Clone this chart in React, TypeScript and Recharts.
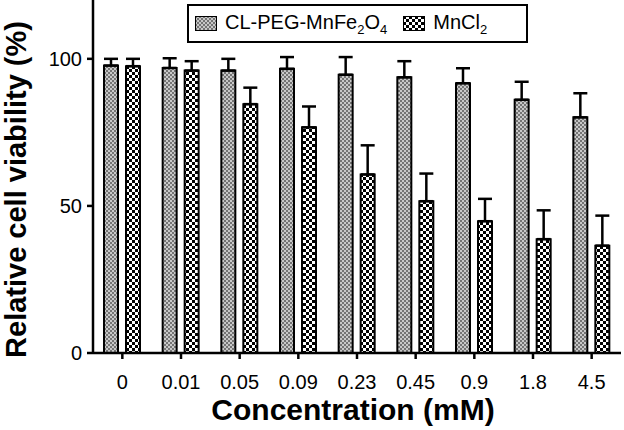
import { BarChart, Bar, XAxis, YAxis, ErrorBar, Legend, Label } from "recharts";

const concentrations = ["0", "0.01", "0.05", "0.09", "0.23", "0.45", "0.9", "1.8", "4.5"];
const clPegValues = [97.7, 96.9, 96.0, 96.6, 94.6, 93.7, 91.7, 86.1, 80.1];
const clPegErrors = [2.3, 3.3, 4.0, 4.0, 6.0, 5.5, 5.1, 6.1, 8.2];
const mnCl2Values = [97.5, 96.0, 84.6, 76.7, 60.7, 51.6, 44.8, 38.7, 36.5];
const mnCl2Errors = [2.5, 3.2, 5.6, 7.1, 9.9, 9.4, 7.6, 9.8, 10.2];
const yTicks = [0, 50, 100];

const data = concentrations.map((c, i) => ({
  conc: c,
  clPeg: clPegValues[i],
  clPegErr: [0, clPegErrors[i]],
  mnCl2: mnCl2Values[i],
  mnCl2Err: [0, mnCl2Errors[i]],
}));

const font = "'Liberation Sans', Arial, Helvetica, sans-serif";

function Patterns({ prefix }: { prefix: string }) {
  return (
    <defs>
      <pattern id={prefix + "gray"} width="4" height="4" patternUnits="userSpaceOnUse">
        <rect width="4" height="4" fill="#c8c8c8" />
        <rect x="0" y="0" width="2" height="2" fill="#747474" />
        <rect x="2" y="2" width="2" height="2" fill="#747474" />
      </pattern>
      <pattern id={prefix + "check"} width="6" height="6" patternUnits="userSpaceOnUse">
        <rect width="6" height="6" fill="#ffffff" />
        <rect x="0" y="0" width="3" height="3" fill="#000000" />
        <rect x="3" y="3" width="3" height="3" fill="#000000" />
      </pattern>
    </defs>
  );
}

function Swatch({ fill }: { fill: string }) {
  return (
    <svg width="22" height="15" style={{ display: "block" }}>
      <Patterns prefix="lg-" />
      <rect x="0.5" y="0.5" width="21" height="14" fill={fill} stroke="#000" strokeWidth="1" />
    </svg>
  );
}

function LegendBox() {
  return (
    <div
      style={{
        border: "2px solid #000",
        width: 337,
        height: 35,
        display: "flex",
        alignItems: "center",
        fontFamily: font,
        fontSize: 20,
        color: "#000",
        background: "#fff",
        boxSizing: "content-box",
      }}
    >
      <div style={{ marginLeft: 6 }}>
        <Swatch fill="url(#lg-gray)" />
      </div>
      <span style={{ marginLeft: 8, whiteSpace: "nowrap" }}>
        CL-PEG-MnFe<sub style={{ fontSize: 13 }}>2</sub>O<sub style={{ fontSize: 13 }}>4</sub>
      </span>
      <div style={{ marginLeft: 16 }}>
        <Swatch fill="url(#lg-check)" />
      </div>
      <span style={{ marginLeft: 8, whiteSpace: "nowrap" }}>
        MnCl<sub style={{ fontSize: 13 }}>2</sub>
      </span>
    </div>
  );
}

export default function App() {
  return (
    <div style={{ position: "absolute", left: 0, top: 0, background: "#fff" }}>
      <BarChart
        width={624}
        height={430}
        data={data}
        margin={{ top: 0, right: 3, left: 0, bottom: 0 }}
        barGap={8}
        barSize={14}
      >
        <Patterns prefix="bar-" />
        <XAxis
          dataKey="conc"
          height={77}
          stroke="#000"
          strokeWidth={2.5}
          tickSize={6}
          tickMargin={16}
          tick={{ fill: "#000", fontSize: 20, fontFamily: font }}
        >
          <Label
            content={(props: any) => {
              const vb = props.viewBox;
              return (
                <text
                  x={vb.x + vb.width / 2 - 4}
                  y={vb.y + 67}
                  textAnchor="middle"
                  fontFamily={font}
                  fontSize={30}
                  fontWeight="bold"
                  fill="#000"
                >
                  Concentration (mM)
                </text>
              );
            }}
          />
        </XAxis>
        <YAxis
          width={93}
          domain={[0, 120]}
          ticks={yTicks}
          stroke="#000"
          strokeWidth={2.5}
          tickSize={6}
          tickMargin={5}
          tick={{ fill: "#000", fontSize: 20, fontFamily: font }}
        >
          <Label
            content={(props: any) => {
              const vb = props.viewBox;
              const cx = vb.x + 26;
              const cy = vb.y + vb.height / 2 + 13;
              return (
                <text
                  x={cx}
                  y={cy}
                  transform={`rotate(-90, ${cx}, ${cy})`}
                  textAnchor="middle"
                  fontFamily={font}
                  fontSize={29}
                  fontWeight="bold"
                  fill="#000"
                >
                  Relative cell viability (%)
                </text>
              );
            }}
          />
        </YAxis>
        <Legend
          layout="vertical"
          align="center"
          verticalAlign="middle"
          wrapperStyle={{ top: 4, left: 187, width: "auto", height: "auto" }}
          content={() => <LegendBox />}
        />
        <Bar dataKey="clPeg" fill="url(#bar-gray)" stroke="#000" strokeWidth={2} isAnimationActive={false}>
          <ErrorBar dataKey="clPegErr" width={7} stroke="#000" strokeWidth={2.5} direction="y" />
        </Bar>
        <Bar dataKey="mnCl2" fill="url(#bar-check)" stroke="#000" strokeWidth={2} isAnimationActive={false}>
          <ErrorBar dataKey="mnCl2Err" width={7} stroke="#000" strokeWidth={2.5} direction="y" />
        </Bar>
      </BarChart>
    </div>
  );
}
